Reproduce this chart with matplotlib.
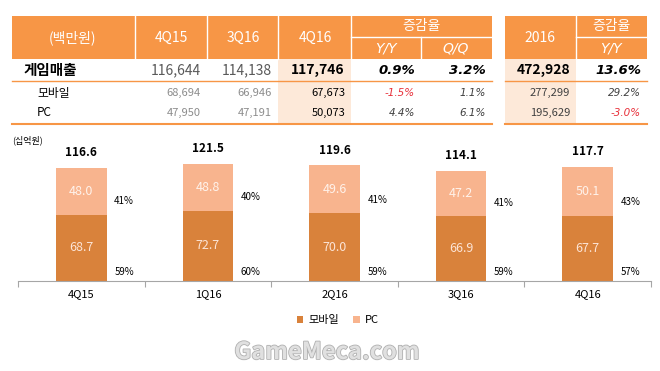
import matplotlib
matplotlib.use("Agg")
import matplotlib.pyplot as plt
from matplotlib.patches import Rectangle
import matplotlib.patheffects as pe

plt.rcParams["font.family"] = ["Noto Sans CJK KR", "DejaVu Sans"]

# ---- table data (백만원) ----
table_cols = ["4Q15", "3Q16", "4Q16"]
row_labels = ["게임매출", "모바일", "PC"]
rev_4q15 = [116644, 68694, 47950]
rev_3q16 = [114138, 66946, 47191]
rev_4q16 = [117746, 67673, 50073]
yoy = [0.9, -1.5, 4.4]
qoq = [3.2, 1.1, 6.1]
rev_2016 = [472928, 277299, 195629]
yoy_2016 = [13.6, 29.2, -3.0]

# ---- chart data (십억원) ----
quarters = ["4Q15", "1Q16", "2Q16", "3Q16", "4Q16"]
mobile = [68.7, 72.7, 70.0, 66.9, 67.7]
pc = [48.0, 48.8, 49.6, 47.2, 50.1]
totals = [116.6, 121.5, 119.6, 114.1, 117.7]
mobile_share = [59, 60, 59, 59, 57]
pc_share = [41, 40, 41, 41, 43]

ORANGE = "#F79646"
PEACH = "#FDE9D9"
MOBILE_C = "#D9823B"
PC_C = "#F8B48E"

W, H = 660, 371
fig = plt.figure(figsize=(W / 100, H / 100), dpi=100)

# overlay axes in pixel coords for the table
tab = fig.add_axes([0, 0, 1, 1])
tab.set_xlim(0, W)
tab.set_ylim(H, 0)
tab.axis("off")


def rect(x0, y0, x1, y1, color):
    tab.add_patch(Rectangle((x0, y0), x1 - x0, y1 - y0, facecolor=color,
                            edgecolor="none"))


# header backgrounds
rect(12, 16, 492, 59, ORANGE)
rect(505, 16, 647, 59, ORANGE)
# peach columns
rect(278, 59, 351, 124, PEACH)
rect(505, 59, 576, 124, PEACH)
# white separators in header
for x in [135, 207, 278, 351, 421]:
    y0 = 37 if x == 421 else 16
    tab.plot([x, x], [y0, 59], color="white", lw=1)
tab.plot([351, 492], [37, 37], color="white", lw=1)
tab.plot([576, 576], [16, 59], color="white", lw=1)
tab.plot([576, 647], [37, 37], color="white", lw=1)
# orange lines
for x0, x1 in [(12, 492), (505, 647)]:
    tab.plot([x0, x1], [80.5, 80.5], color=ORANGE, lw=1)
    tab.plot([x0, x1], [124, 124], color=ORANGE, lw=1.5)

hdr = dict(color="white", fontsize=10, ha="center", va="center")
ital = dict(family="DejaVu Sans", style="italic")
tab.text(73, 38, "(백만원)", **hdr)
for x, t in zip([171, 243, 315], table_cols):
    tab.text(x, 38, t, **hdr)
tab.text(421, 26, "증감율", **hdr)
tab.text(386, 48, "Y/Y", **ital, **hdr)
tab.text(456, 48, "Q/Q", **ital, **hdr)
tab.text(540, 38, "2016", **hdr)
tab.text(611, 26, "증감율", **hdr)
tab.text(611, 48, "Y/Y", **ital, **hdr)

row_y = [70, 93, 113]
for i, y in enumerate(row_y):
    main = i == 0
    fs = 10 if main else 8
    fw = "bold" if main else "normal"
    if main:
        tab.text(24, y, row_labels[i], fontsize=10.5, fontweight="bold",
                 va="center")
    else:
        tab.text(37, y, row_labels[i], fontsize=8.5, va="center")
    gray = "#595959" if main else "#8c8c8c"
    tab.text(201, y, f"{rev_4q15[i]:,}", color=gray, fontsize=fs,
             ha="right", va="center")
    tab.text(272, y, f"{rev_3q16[i]:,}", color=gray, fontsize=fs,
             ha="right", va="center")
    tab.text(345, y, f"{rev_4q16[i]:,}", color="black", fontsize=fs,
             fontweight=fw, ha="right", va="center")
    for x, v in [(415, yoy[i]), (486, qoq[i]), (641, yoy_2016[i])]:
        c = "#E8303A" if v < 0 else ("black" if main else "#404040")
        tab.text(x, y, f"{v:.1f}%", color=c, fontsize=fs - 0.5, fontweight=fw,
                 **ital, ha="right", va="center")
    tab.text(570, y, f"{rev_2016[i]:,}", color="black" if main else "#404040",
             fontsize=fs, fontweight=fw, ha="right", va="center")

# ---- stacked bar chart ----
# plot area: x 18..651 px, baseline at y=281 px, 0.966 px per unit
ymax = 150
top_px = 281 - ymax * 0.966
ax = fig.add_axes([18 / W, (H - 281) / H, (651 - 18) / W, (281 - top_px) / H])
ax.patch.set_alpha(0)
x = range(len(quarters))
ax.bar(x, mobile, width=0.4, color=MOBILE_C, label="모바일")
ax.bar(x, pc, width=0.4, bottom=mobile, color=PC_C, label="PC")
ax.set_xlim(-0.5, len(quarters) - 0.5)
ax.set_ylim(0, ymax)

for i in x:
    ax.text(i, mobile[i] / 2, f"{mobile[i]:.1f}", color="#FCE4D6",
            fontsize=9, ha="center", va="center")
    ax.text(i, mobile[i] + pc[i] / 2, f"{pc[i]:.1f}", color="#FFF2EA",
            fontsize=9, ha="center", va="center")
    ax.text(i, totals[i] + 16, f"{totals[i]:.1f}", fontsize=8.5,
            fontweight="bold", ha="center", va="center")
    ax.text(i + 0.26, 9.5, f"{mobile_share[i]}%", fontsize=7,
            ha="left", va="center")
    ax.text(i + 0.26, mobile[i] + 14, f"{pc_share[i]}%", fontsize=7,
            ha="left", va="center")

for s in ("top", "right", "left"):
    ax.spines[s].set_visible(False)
ax.spines["bottom"].set_color("#a6a6a6")
ax.set_yticks([])
ax.set_xticks([i - 0.5 for i in range(len(quarters) + 1)], minor=False)
ax.set_xticklabels([])
ax.tick_params(axis="x", length=4, color="#a6a6a6", direction="out")
for i, q in enumerate(quarters):
    ax.text(i, -14, q, fontsize=8, ha="center", va="center",
            transform=ax.transData, clip_on=False)

ax.legend(loc="center", bbox_to_anchor=((338 - 18) / (651 - 18), -0.27),
          ncol=2, frameon=False, fontsize=8, handlelength=0.6,
          handleheight=0.6, handletextpad=0.5, columnspacing=1.2)

fig.text(12 / W, 1 - 140 / H, "(십억원)", fontsize=6.5, va="center")

# watermark
tab.text(327, 352, "GameMeca.com", fontsize=17, fontweight="bold",
         color="#e0e0e0", ha="center", va="center",
         path_effects=[pe.withStroke(linewidth=1.2, foreground="#b0b0b0")])

fig.savefig("out.png", dpi=100)
